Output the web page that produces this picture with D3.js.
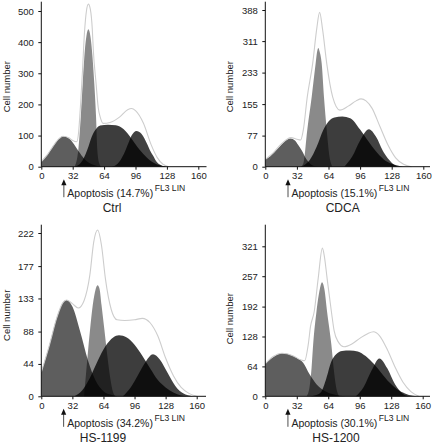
<!DOCTYPE html>
<html><head><meta charset="utf-8">
<script src="https://cdn.jsdelivr.net/npm/d3@7"></script>
<style>
html,body{margin:0;padding:0;background:#fff;}
svg{display:block;font-family:"Liberation Sans",Arial,sans-serif;}
</style></head>
<body><svg id="chart" width="433" height="445"></svg>
<script>
// ---------------- data ----------------
const xTicks = [0, 32, 64, 96, 128, 160];
const panelNames = ["Ctrl", "CDCA", "HS-1199", "HS-1200"];
const apoptosisPct = ["14.7%", "15.1%", "34.2%", "30.1%"];
const arrowPos = [23, 23, 23, 23];
const yTicksCtrl = [0, 100, 200, 300, 400, 500];
const yTicksCDCA = [0, 77, 155, 233, 311, 388];
const yTicks1199 = [0, 44, 88, 133, 177, 222];
const yTicks1200 = [0, 64, 128, 192, 257, 321];

// Ctrl
const ctrlApoptosis = [[0,16],[6,38],[12,66],[18,90],[22,98],[26,95],[32,78],[38,50],[44,25],[50,10],[56,3],[62,0]];
const ctrlG1 = [[34,0],[37.7,54],[40.2,160],[42.2,268],[44.4,375],[46,420],[48,441],[50,420],[51.6,375],[54,268],[55.8,160],[57.1,54],[59,12],[61,0]];
const ctrlS = [[34,0],[36,2],[42,20],[48,64],[51.4,96],[56,122],[60,132],[68,135],[76,133],[84,120],[92,90],[100,55],[108,28],[116,10],[124,2],[128,0]];
const ctrlG2 = [[72,0],[78,10],[84,40],[88.7,75],[92,100],[97,115],[102,106],[108,72],[110.7,53],[114,35],[117.5,16],[122,5],[128,0]];
const ctrlTotal = [[0,16],[6,38],[12,66],[18,90],[22,98],[28,93],[32,84],[36,80],[38,110],[40,200],[42,310],[44,430],[46,500],[48,522],[50,505],[52,440],[53,375],[55.8,268],[58,190],[60,160],[63,139],[70,142],[80,160],[88,183],[92,187],[96,180],[104,140],[112,70],[118,30],[124,8],[130,0]];

// CDCA
const cdcaApoptosis = [[0,18],[4.8,25],[10,38],[16,54],[22,67],[25.7,70],[30,65],[33,55],[36.8,41],[42,17],[46,6],[50,1],[54,0]];
const cdcaG1 = [[36,0],[38.5,8],[42.5,91],[47,173],[51,256],[52.5,285],[53.7,294],[55,285],[57.1,256],[59.4,173],[62.2,91],[65,25],[68,0]];
const cdcaS = [[36,0],[40,5],[45,16.6],[52,49.5],[58.7,91],[64,112],[70,122],[78,124],[86,120],[96,92],[104,64],[112,38],[120,18],[128,7],[136,2],[142,0]];
const cdcaG2 = [[80,0],[88,25],[96,65],[105,93],[112,75],[120,35],[128,10],[134,0]];
const cdcaTotal = [[0,18],[8,34],[16,56],[26,72],[32,68],[35.8,66],[38.5,91],[42.5,173],[48,256],[52,340],[55,382],[58,340],[62.2,256],[68.2,173],[75.6,140],[84,150],[92,163],[97,168],[102,163],[108,145],[116,100],[124,55],[132,22],[140,6],[148,0]];

// HS-1199
const hs1199Apoptosis = [[0,33],[8,68],[16,107],[22,127],[26,131],[32,122],[40,88],[48,49],[56,21],[64,7],[72,2],[78,0]];
const hs1199G1 = [[44,0],[46,30],[48,60],[50,88],[53,124],[56,146],[58,151],[60,146],[62,124],[65,90],[68,55],[71,25],[74,5],[76,0]];
const hs1199S = [[34,0],[42,8],[50,25],[58,48],[66,68],[74,80],[80,83],[88,80],[96,70],[104,55],[112,38],[120,22],[128,12],[136,5],[144,1],[150,0]];
const hs1199G2 = [[84,0],[92,12],[100,30],[108,48],[115,57],[122,50],[130,32],[138,14],[146,4],[156,0]];
const hs1199Total = [[0,33],[8,68],[16,107],[22,127],[26,131],[32,126],[38,120],[44,130],[50,165],[54,210],[58,226],[62,205],[66,160],[72,118],[78,104],[86,103],[96,104],[104,106],[112,100],[120,82],[128,52],[136,28],[144,12],[152,4],[160,0]];

// HS-1200
const hs1200Apoptosis = [[0,70],[6,81],[12,89],[17,92],[24,90],[32,82],[38.5,72],[45,47],[52,26],[60,12],[68,5],[76,1],[82,0]];
const hs1200G1 = [[42,0],[45,20],[47,60],[48.6,110],[52,181],[55.5,230],[57.7,244],[60,230],[62.8,181],[67.2,110],[69.5,60],[72,20],[75,0]];
const hs1200S = [[44,0],[52,3],[57,10],[62,38],[67,74],[72,90],[78,97],[86,98],[94,96],[102,86],[110,70],[118,50],[126,30],[134,15],[142,6],[150,1],[154,0]];
const hs1200G2 = [[92,0],[100,20],[108,55],[116,81],[124,60],[132,25],[140,5],[146,0]];
const hs1200Total = [[0,70],[8,85],[17,92],[28,87],[36,78],[40,76],[43.6,110],[46,150],[49.7,181],[53.8,253],[58,317],[60,300],[62.8,253],[67.2,181],[70,140],[74,117],[80,106],[88,112],[96,124],[104,134],[110,138],[116,130],[124,100],[132,62],[140,30],[148,10],[156,0]];

// ---------------- layout ----------------
const layout = [
  {left:41.3, right:198.3, axisEnd:206.5, y0:166.7, yTop:11,    axisTop:1.7,   labelX:9.5,   labelY:86.7,  titleX:112},
  {left:265.3,right:423.3, axisEnd:430,   y0:166.7, yTop:10,    axisTop:1.7,   labelX:233,   labelY:86.7,  titleX:342.7},
  {left:41.3, right:196.7, axisEnd:206,   y0:396.3, yTop:233,   axisTop:224.7, labelX:9.5,   labelY:315.3, titleX:103},
  {left:265.3,right:422.7, axisEnd:430,   y0:396.3, yTop:246.3, axisTop:224.7, labelX:233,   labelY:318.7, titleX:336}
];

const panels = [
  {name:panelNames[0], pct:apoptosisPct[0], arrow:arrowPos[0], yTicks:yTicksCtrl, apo:ctrlApoptosis, g1:ctrlG1, s:ctrlS, g2:ctrlG2, total:ctrlTotal},
  {name:panelNames[1], pct:apoptosisPct[1], arrow:arrowPos[1], yTicks:yTicksCDCA, apo:cdcaApoptosis, g1:cdcaG1, s:cdcaS, g2:cdcaG2, total:cdcaTotal},
  {name:panelNames[2], pct:apoptosisPct[2], arrow:arrowPos[2], yTicks:yTicks1199, apo:hs1199Apoptosis, g1:hs1199G1, s:hs1199S, g2:hs1199G2, total:hs1199Total},
  {name:panelNames[3], pct:apoptosisPct[3], arrow:arrowPos[3], yTicks:yTicks1200, apo:hs1200Apoptosis, g1:hs1200G1, s:hs1200S, g2:hs1200G2, total:hs1200Total}
];

const svg = d3.select("#chart");

panels.forEach((p, i) => {
  const L = layout[i];
  const x = d3.scaleLinear().domain([0, 160]).range([L.left, L.right]);
  const y = d3.scaleLinear().domain([0, p.yTicks[p.yTicks.length - 1]]).range([L.y0, L.yTop]);
  const g = svg.append("g");

  const area = d3.area().x(d => x(d[0])).y0(L.y0).y1(d => y(d[1])).curve(d3.curveMonotoneX);
  const line = d3.line().x(d => x(d[0])).y(d => y(d[1])).curve(d3.curveMonotoneX);

  const shapes = [
    {data:p.apo, op:0.63},
    {data:p.g1,  op:0.46},
    {data:p.s,   op:0.76},
    {data:p.g2,  op:0.74}
  ];
  shapes.forEach(s => {
    g.append("path").attr("d", area(s.data)).attr("fill", "#000").attr("fill-opacity", s.op);
  });
  g.append("path").attr("d", line(p.total)).attr("fill", "none")
    .attr("stroke", "#cdcdcd").attr("stroke-width", 1.1);

  // x axis
  const xa = g.append("g").attr("transform", `translate(0,${L.y0})`)
    .call(d3.axisBottom(x).tickValues(xTicks).tickSize(3).tickSizeOuter(0).tickPadding(3));
  xa.select(".domain").remove();
  xa.selectAll("text").attr("font-size", 9.5).attr("fill", "#222").attr("font-family", "Liberation Sans, Arial, sans-serif");
  xa.selectAll("line").attr("stroke", "#111");
  g.append("line").attr("x1", L.left).attr("x2", L.axisEnd).attr("y1", L.y0).attr("y2", L.y0)
    .attr("stroke", "#111").attr("stroke-width", 1);

  // y axis
  const ya = g.append("g").attr("transform", `translate(${L.left},0)`)
    .call(d3.axisLeft(y).tickValues(p.yTicks).tickSize(3).tickSizeOuter(0).tickPadding(4.5));
  ya.select(".domain").remove();
  ya.selectAll("text").attr("font-size", 9.5).attr("fill", "#222").attr("font-family", "Liberation Sans, Arial, sans-serif");
  ya.selectAll("line").attr("stroke", "#111");
  g.append("line").attr("x1", L.left).attr("x2", L.left).attr("y1", L.y0).attr("y2", L.axisTop)
    .attr("stroke", "#111").attr("stroke-width", 1);

  // y label
  g.append("text").attr("transform", `translate(${L.labelX},${L.labelY}) rotate(-90)`)
    .attr("text-anchor", "middle").attr("font-size", 9.5).attr("fill", "#222").text("Cell number");

  // arrow
  const ax = x(p.arrow);
  g.append("line").attr("x1", ax).attr("x2", ax).attr("y1", L.y0 + 17).attr("y2", L.y0 + 30.5)
    .attr("stroke", "#222").attr("stroke-width", 0.8);
  g.append("path").attr("d", `M${ax},${L.y0 + 12.5}L${ax - 2.6},${L.y0 + 18.5}L${ax + 2.6},${L.y0 + 18.5}Z`)
    .attr("fill", "#111");

  // apoptosis label
  const apoText = g.append("text").attr("x", ax + 3.5).attr("y", L.y0 + 30.3)
    .attr("font-size", 10.5).attr("fill", "#222").text(`Apoptosis (${p.pct})`);
  const w = apoText.node().getComputedTextLength();
  g.append("text").attr("x", ax + 3.5 + w + 1.5).attr("y", L.y0 + 24.5)
    .attr("font-size", 8.6).attr("fill", "#222").text("FL3 LIN");

  // panel title
  g.append("text").attr("x", L.titleX).attr("y", L.y0 + 45.5).attr("text-anchor", "middle")
    .attr("font-size", 12).attr("fill", "#222").text(p.name);
});
</script>
</body></html>
